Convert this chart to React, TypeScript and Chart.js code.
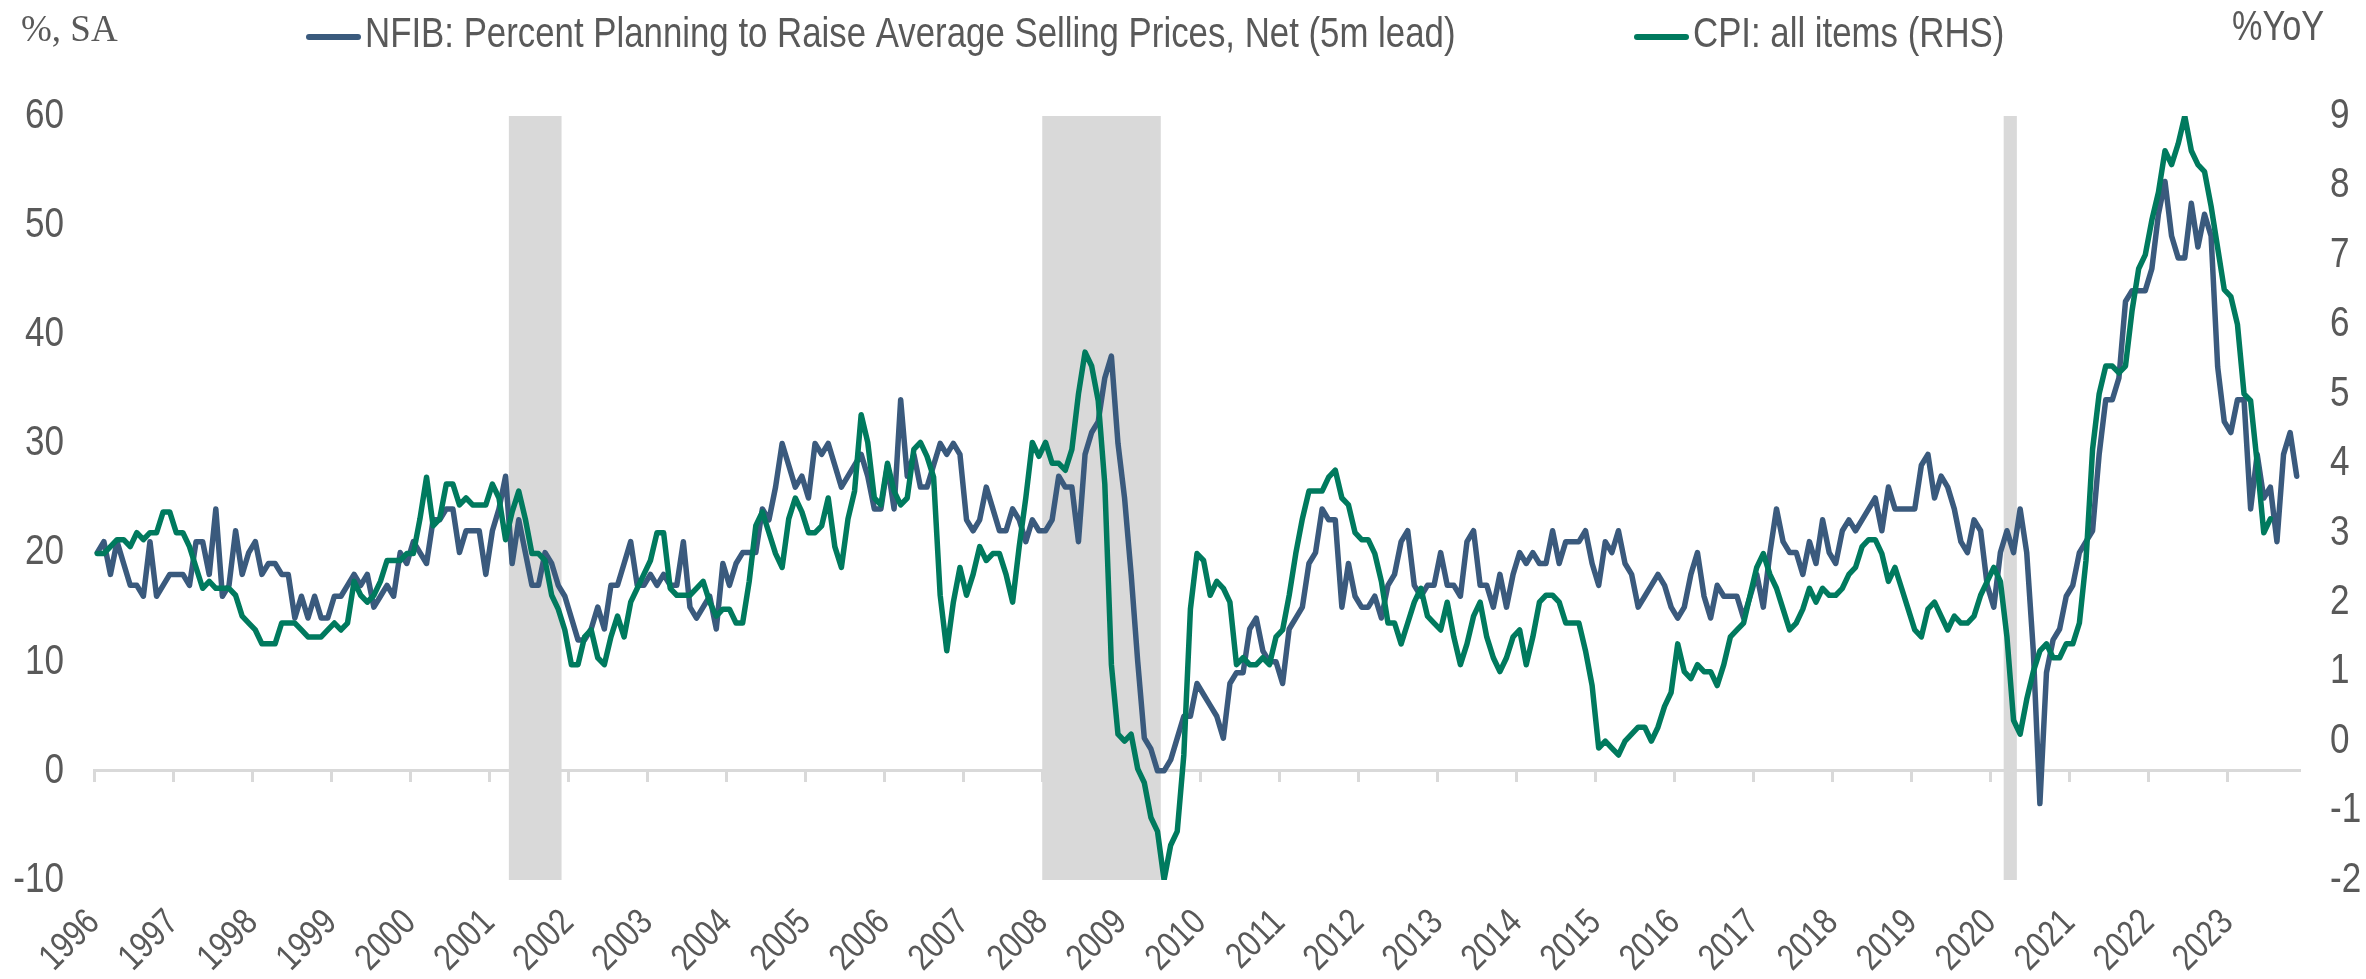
import React, { useEffect, useRef } from "react";
import { Chart, registerables } from "chart.js";

Chart.register(...registerables);

// ---------- data ----------
const START_YEAR = 1996; // first month: Jan 1996
const X_MIN = 1996;
const X_MAX = 2023 + 11 / 12; // axis runs to end of Nov 2023

const NFIB_LABEL = "NFIB: Percent Planning to Raise Average Selling Prices, Net (5m lead)";
const CPI_LABEL = "CPI: all items (RHS)";
const LEFT_UNIT = "%, SA";
const RIGHT_UNIT = "%YoY";

// monthly, Jan 1996 .. Nov 2023 (plotted with 5m lead)
const nfibValues = [
  20, 21, 18, 21, 19, 17, 17, 16, 21, 16, 17, 18,
  18, 18, 17, 21, 21, 18, 24, 16, 17, 22, 18, 20,
  21, 18, 19, 19, 18, 18, 14, 16, 14, 16, 14, 14,
  16, 16, 17, 18, 17, 18, 15, 16, 17, 16, 20, 19,
  21, 20, 19, 23, 23, 24, 24, 20, 22, 22, 22, 18,
  22, 24, 27, 19, 23, 20, 17, 17, 20, 19, 17, 16,
  14, 12, 12, 13, 15, 13, 17, 17, 19, 21, 17, 17,
  18, 17, 18, 17, 17, 21, 15, 14, 15, 16, 13, 19,
  17, 19, 20, 20, 20, 24, 23, 26, 30, 28, 26, 27,
  25, 30, 29, 30, 28, 26, 27, 28, 29, 27, 24, 24,
  28, 24, 34, 27, 29, 26, 26, 28, 30, 29, 30, 29,
  23, 22, 23, 26, 24, 22, 22, 24, 23, 21, 23, 22,
  22, 23, 27, 26, 26, 21, 29, 31, 32, 36, 38, 30,
  25, 18, 10, 3, 2, 0, 0, 1, 3, 5, 5, 8,
  7, 6, 5, 3, 8, 9, 9, 13, 14, 11, 10, 10,
  8, 13, 14, 15, 19, 20, 24, 23, 23, 15, 19, 16,
  15, 15, 16, 14, 17, 18, 21, 22, 17, 16, 17, 17,
  20, 17, 17, 16, 21, 22, 17, 17, 15, 18, 15, 18,
  20, 19, 20, 19, 19, 22, 19, 21, 21, 21, 22, 19,
  17, 21, 20, 22, 19, 18, 15, 16, 17, 18, 17, 15,
  14, 15, 18, 20, 16, 14, 17, 16, 16, 16, 14, 16,
  18, 15, 20, 24, 21, 20, 20, 18, 21, 19, 23, 20,
  19, 22, 23, 22, 23, 24, 25, 22, 26, 24, 24, 24,
  24, 28, 29, 25, 27, 26, 24, 21, 20, 23, 22, 17,
  15, 20, 22, 20, 24, 20, 11, -3, 9, 12, 13, 16,
  17, 20, 21, 22, 29, 34, 34, 36, 43, 44, 44, 44,
  46, 51, 54, 49, 47, 47, 52, 48, 51, 49, 37, 32,
  31, 34, 34, 24, 29, 25, 26, 21, 29, 31, 27,
];

// monthly, Jan 1996 .. Jul 2023
const cpiValues = [
  2.7, 2.7, 2.8, 2.9, 2.9, 2.8, 3.0, 2.9, 3.0, 3.0, 3.3, 3.3,
  3.0, 3.0, 2.8, 2.5, 2.2, 2.3, 2.2, 2.2, 2.2, 2.1, 1.8, 1.7,
  1.6, 1.4, 1.4, 1.4, 1.7, 1.7, 1.7, 1.6, 1.5, 1.5, 1.5, 1.6,
  1.7, 1.6, 1.7, 2.3, 2.1, 2.0, 2.1, 2.3, 2.6, 2.6, 2.6, 2.7,
  2.7, 3.2, 3.8, 3.1, 3.2, 3.7, 3.7, 3.4, 3.5, 3.4, 3.4, 3.4,
  3.7, 3.5, 2.9, 3.3, 3.6, 3.2, 2.7, 2.7, 2.6, 2.1, 1.9, 1.6,
  1.1, 1.1, 1.5, 1.6, 1.2, 1.1, 1.5, 1.8, 1.5, 2.0, 2.2, 2.4,
  2.6, 3.0, 3.0, 2.2, 2.1, 2.1, 2.1, 2.2, 2.3, 2.0, 1.8, 1.9,
  1.9, 1.7, 1.7, 2.3, 3.1, 3.3, 3.0, 2.7, 2.5, 3.2, 3.5, 3.3,
  3.0, 3.0, 3.1, 3.5, 2.8, 2.5, 3.2, 3.6, 4.7, 4.3, 3.5, 3.4,
  4.0, 3.6, 3.4, 3.5, 4.2, 4.3, 4.1, 3.8, 2.1, 1.3, 2.0, 2.5,
  2.1, 2.4, 2.8, 2.6, 2.7, 2.7, 2.4, 2.0, 2.8, 3.5, 4.3, 4.1,
  4.3, 4.0, 4.0, 3.9, 4.2, 5.0, 5.6, 5.4, 4.9, 3.7, 1.1, 0.1,
  0.0, 0.1, -0.4, -0.6, -1.1, -1.3, -2.0, -1.5, -1.3, -0.2, 1.9, 2.7,
  2.6, 2.1, 2.3, 2.2, 2.0, 1.1, 1.2, 1.1, 1.1, 1.2, 1.1, 1.5,
  1.6, 2.1, 2.7, 3.2, 3.6, 3.6, 3.6, 3.8, 3.9, 3.5, 3.4, 3.0,
  2.9, 2.9, 2.7, 2.3, 1.7, 1.7, 1.4, 1.7, 2.0, 2.2, 1.8, 1.7,
  1.6, 2.0, 1.5, 1.1, 1.4, 1.8, 2.0, 1.5, 1.2, 1.0, 1.2, 1.5,
  1.6, 1.1, 1.5, 2.0, 2.1, 2.1, 2.0, 1.7, 1.7, 1.7, 1.3, 0.8,
  -0.1, 0.0, -0.1, -0.2, 0.0, 0.1, 0.2, 0.2, 0.0, 0.2, 0.5, 0.7,
  1.4, 1.0, 0.9, 1.1, 1.0, 1.0, 0.8, 1.1, 1.5, 1.6, 1.7, 2.1,
  2.5, 2.7, 2.4, 2.2, 1.9, 1.6, 1.7, 1.9, 2.2, 2.0, 2.2, 2.1,
  2.1, 2.2, 2.4, 2.5, 2.8, 2.9, 2.9, 2.7, 2.3, 2.5, 2.2, 1.9,
  1.6, 1.5, 1.9, 2.0, 1.8, 1.6, 1.8, 1.7, 1.7, 1.8, 2.1, 2.3,
  2.5, 2.3, 1.5, 0.3, 0.1, 0.6, 1.0, 1.3, 1.4, 1.2, 1.2, 1.4,
  1.4, 1.7, 2.6, 4.2, 5.0, 5.4, 5.4, 5.3, 5.4, 6.2, 6.8, 7.0,
  7.5, 7.9, 8.5, 8.3, 8.6, 9.0, 8.5, 8.3, 8.2, 7.7, 7.1, 6.5,
  6.4, 6.0, 5.0, 4.9, 4.0, 3.0, 3.2,
];

// recessions (first and last month, inclusive)
const recessionStarts = ["2001-04", "2008-01", "2020-03"];
const recessionEnds = ["2001-11", "2009-06", "2020-04"];

// axis ranges
const leftAxis = { min: -10, max: 60, step: 10 };
const rightAxis = { min: -2, max: 9, step: 1 };

// ---------- styles ----------
const BLUE = "#3a5a7d";
const GREEN = "#007a5e";
const AXIS = "#d9d9d9";
const TEXT = "#595959";
const SANS = "'Liberation Sans', Arial, sans-serif";
const SERIF = "'Liberation Serif', 'Times New Roman', serif";
const SQUEEZE = 0.816; // narrow (condensed) sans look

const monthX = (i: number) => START_YEAR + (i + 0.5) / 12;
const ymStart = (s: string) => {
  const [y, m] = s.split("-").map(Number);
  return y + (m - 1) / 12;
};
const ymEnd = (s: string) => {
  const [y, m] = s.split("-").map(Number);
  return y + m / 12;
};

function narrowText(
  ctx: CanvasRenderingContext2D,
  text: string,
  x: number,
  y: number,
  size: number,
  align: CanvasTextAlign,
  rotation = 0
) {
  ctx.save();
  ctx.translate(x, y);
  if (rotation) ctx.rotate(rotation);
  ctx.scale(SQUEEZE, 1);
  ctx.font = `${size}px ${SANS}`;
  ctx.textAlign = align;
  ctx.textBaseline = "middle";
  ctx.fillStyle = TEXT;
  ctx.fillText(text, 0, 0);
  ctx.restore();
}

const recessionPlugin = {
  id: "recessions",
  beforeDatasetsDraw(chart: any) {
    const { ctx, chartArea, scales } = chart;
    const xs = scales.x;
    ctx.save();
    ctx.fillStyle = AXIS;
    recessionStarts.forEach((s, i) => {
      const x1 = xs.getPixelForValue(ymStart(s));
      const x2 = xs.getPixelForValue(ymEnd(recessionEnds[i]));
      ctx.fillRect(x1, chartArea.top, x2 - x1, chartArea.bottom - chartArea.top);
    });
    ctx.restore();
  },
};

// tick labels of the library's scales, drawn in a narrow face
const tickLabelPlugin = {
  id: "narrowTicks",
  afterDraw(chart: any) {
    const { ctx, chartArea, scales } = chart;
    const { x, y, y1 } = scales;
    y.ticks.forEach((t: any) => {
      narrowText(ctx, String(t.label), chartArea.left - 30, y.getPixelForValue(t.value), 43, "right");
    });
    y1.ticks.forEach((t: any) => {
      narrowText(ctx, String(t.label), chartArea.right + 30, y1.getPixelForValue(t.value), 43, "left");
    });
    x.ticks.forEach((t: any) => {
      narrowText(ctx, String(t.label), x.getPixelForValue(t.value), chartArea.bottom + 37, 37, "right", -Math.PI / 4);
    });
  },
};

const LEGEND_X = [306, 1634];
const LEGEND_Y = 35;

const textPlugin = {
  id: "texts",
  afterDraw(chart: any) {
    const { ctx } = chart;
    ctx.save();
    ctx.textBaseline = "middle";
    ctx.textAlign = "left";
    ctx.fillStyle = TEXT;
    ctx.font = `37px ${SERIF}`;
    ctx.fillText(LEFT_UNIT, 21, 31);
    ctx.restore();
    narrowText(ctx, RIGHT_UNIT, 2232, 28, 42, "left");
    chart.data.datasets.forEach((ds: any, i: number) => {
      const lx = LEGEND_X[i];
      ctx.save();
      ctx.strokeStyle = ds.borderColor;
      ctx.lineWidth = 6;
      ctx.lineCap = "round";
      ctx.beginPath();
      ctx.moveTo(lx + 3, LEGEND_Y + 2);
      ctx.lineTo(lx + 52, LEGEND_Y + 2);
      ctx.stroke();
      ctx.restore();
      narrowText(ctx, ds.label, lx + 59, LEGEND_Y, 42.67, "left");
    });
  },
};

export default function App() {
  const ref = useRef<HTMLCanvasElement>(null);

  useEffect(() => {
    const canvas = ref.current;
    if (!canvas) return;
    const nfibPoints = nfibValues.map((v, i) => ({ x: monthX(i), y: v }));
    const cpiPoints = cpiValues.map((v, i) => ({ x: monthX(i), y: v }));

    const chart = new Chart(canvas, {
      type: "line",
      data: {
        datasets: [
          {
            label: NFIB_LABEL,
            data: nfibPoints,
            borderColor: BLUE,
            backgroundColor: BLUE,
            borderWidth: 5.5,
            pointRadius: 0,
            tension: 0,
            borderJoinStyle: "round",
            borderCapStyle: "round",
            xAxisID: "x",
            yAxisID: "y",
            order: 1,
          },
          {
            label: CPI_LABEL,
            data: cpiPoints,
            borderColor: GREEN,
            backgroundColor: GREEN,
            borderWidth: 5.5,
            pointRadius: 0,
            tension: 0,
            borderJoinStyle: "round",
            borderCapStyle: "round",
            xAxisID: "x",
            yAxisID: "y1",
            order: 0,
          },
        ],
      },
      options: {
        responsive: false,
        animation: false,
        devicePixelRatio: 1,
        layout: { padding: { top: 116, left: 0, right: 0, bottom: 99 } },
        plugins: {
          legend: { display: false },
          tooltip: { enabled: false },
        },
        scales: {
          x: {
            type: "linear",
            min: X_MIN,
            max: X_MAX,
            position: { y: 0 } as any,
            ticks: {
              display: false,
              stepSize: 1,
              includeBounds: false,
              autoSkip: false,
              callback: (v: any) => String(v),
            },
            grid: {
              drawOnChartArea: false,
              drawTicks: true,
              tickLength: 10,
              tickWidth: 3,
              tickColor: AXIS,
            },
            border: { display: true, color: AXIS, width: 3 },
          },
          y: {
            position: "left",
            min: leftAxis.min,
            max: leftAxis.max,
            ticks: { display: false, stepSize: leftAxis.step },
            grid: { display: false },
            border: { display: false },
            afterFit: (s: any) => {
              s.width = 94;
            },
          },
          y1: {
            position: "right",
            min: rightAxis.min,
            max: rightAxis.max,
            ticks: { display: false, stepSize: rightAxis.step },
            grid: { display: false },
            border: { display: false },
            afterFit: (s: any) => {
              s.width = 66;
            },
          },
        },
      } as any,
      plugins: [recessionPlugin, tickLabelPlugin, textPlugin],
    });
    return () => chart.destroy();
  }, []);

  return (
    <div style={{ position: "absolute", left: 0, top: 0, width: 2366, height: 979, background: "#fff" }}>
      <canvas ref={ref} width={2366} height={979} style={{ display: "block" }} />
    </div>
  );
}
